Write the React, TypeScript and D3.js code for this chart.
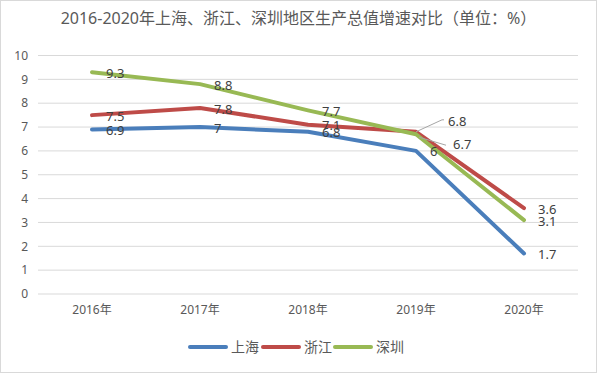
import React from "react";
import * as d3 from "d3";

const categories = ["2016年", "2017年", "2018年", "2019年", "2020年"];
const seriesNames = ["上海", "浙江", "深圳"];
const shanghai = [6.9, 7, 6.8, 6, 1.7];
const zhejiang = [7.5, 7.8, 7.1, 6.8, 3.6];
const shenzhen = [9.3, 8.8, 7.7, 6.7, 3.1];
const yTicks = [0, 1, 2, 3, 4, 5, 6, 7, 8, 9, 10];
const colors = ["#4A7EBB", "#BE4B48", "#98B954"];
const title = "2016-2020年上海、浙江、深圳地区生产总值增速对比（单位：%）";

const W = 597, H = 373;
const left = 38, right = 578, top = 55.5, bottom = 294;
const FONT = "'Noto Sans', 'Noto Sans CJK SC', sans-serif";

export default function App() {
  const x = d3.scaleBand<string>().domain(categories).range([left, right]);
  const y = d3.scaleLinear().domain([0, 10]).range([bottom, top]);
  const cx = (c: string) => (x(c) as number) + x.bandwidth() / 2;
  const line = d3.line<number>().x((_, i) => cx(categories[i])).y((d) => y(d));
  const all = [shanghai, zhejiang, shenzhen];

  // label placement: [dx, dy] relative to point; leader for a few
  const special: Record<string, { lx: number; ly: number; lead?: [number, number][] }> = {
    "1-3": { lx: 448, ly: 121, lead: [[0, 0], [26, -12], [28, -12]] },
    "2-3": { lx: 453, ly: 144, lead: [[3, 3], [30, 11]] },
  };

  return (
    <svg width={W} height={H} style={{ position: "absolute", left: 0, top: 0 }} fontFamily={FONT}>
      <rect x={0.5} y={0.5} width={W - 1} height={H - 1} fill="#fff" stroke="#D9D9D9" />
      <text x={W / 2} y={24} textAnchor="middle" fontSize={16} fill="#595959">{title}</text>
      {yTicks.map((t) => (
        <g key={t}>
          <line x1={left} x2={right} y1={y(t)} y2={y(t)} stroke="#D9D9D9" strokeWidth={1} />
          <text x={28} y={y(t)} dy="0.35em" textAnchor="end" fontSize={12} fill="#595959">{t}</text>
        </g>
      ))}
      {categories.map((c) => (
        <text key={c} x={cx(c)} y={314} textAnchor="middle" fontSize={12} fill="#595959">{c}</text>
      ))}
      {all.map((s, si) => (
        <path key={si} d={line(s) as string} fill="none" stroke={colors[si]} strokeWidth={4}
          strokeLinecap="round" strokeLinejoin="round" />
      ))}
      {all.map((s, si) =>
        s.map((v, i) => {
          const px = cx(categories[i]);
          const py = y(v);
          const sp = special[`${si}-${i}`];
          if (sp) {
            const pts = sp.lead!.map(([dx, dy]) => [px + dx, py + dy] as [number, number]);
            return (
              <g key={`${si}-${i}`}>
                <path d={d3.line()(pts) as string} fill="none" stroke="#A6A6A6" strokeWidth={1} />
                <text x={sp.lx} y={sp.ly} dy="0.35em" fontSize={13} fill="#404040">{v}</text>
              </g>
            );
          }
          return (
            <text key={`${si}-${i}`} x={px + 14} y={py + 1} dy="0.35em" fontSize={13} fill="#404040">{v}</text>
          );
        })
      )}
      {seriesNames.map((n, i) => {
        const lx = [190, 263, 335][i];
        return (
          <g key={n}>
            <line x1={lx} x2={lx + 36} y1={347} y2={347} stroke={colors[i]} strokeWidth={4} strokeLinecap="round" />
            <text x={lx + 41} y={347} dy="0.35em" fontSize={14} fill="#595959">{n}</text>
          </g>
        );
      })}
    </svg>
  );
}
